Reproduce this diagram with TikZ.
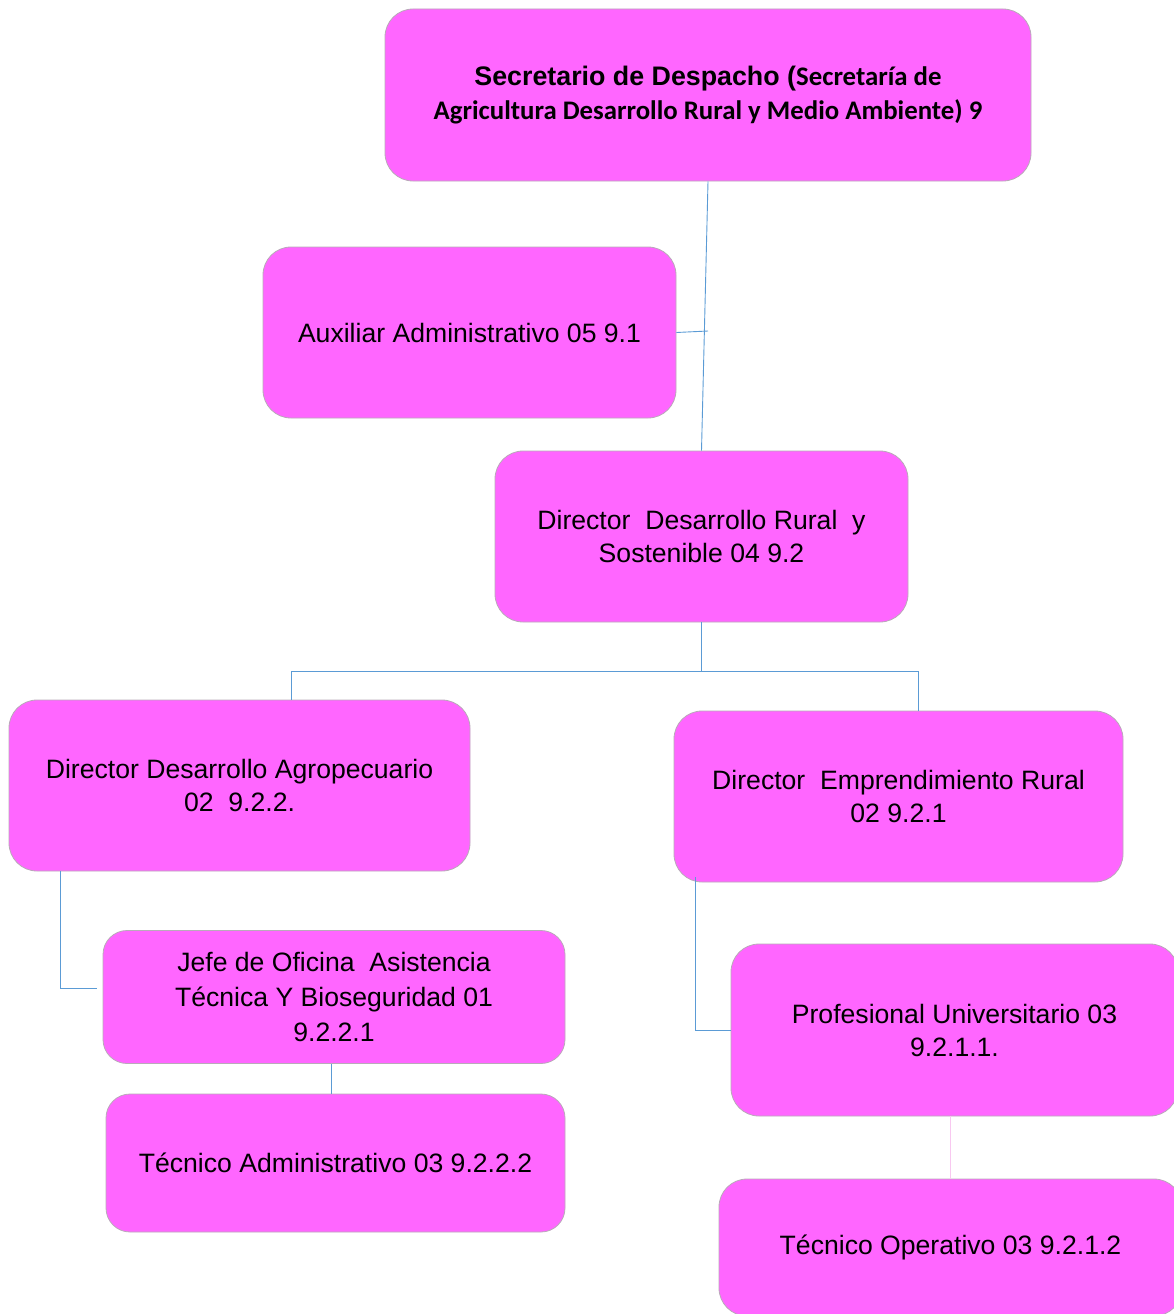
\documentclass[tikz,border=0pt]{standalone}
\usepackage{fontspec}
\setmainfont{Liberation Sans}
\newfontfamily\calibrifont{Carlito}
\usetikzlibrary{positioning}
\definecolor{boxpink}{RGB}{255,102,255}
\definecolor{boxedge}{RGB}{185,170,185}
\definecolor{linkblue}{RGB}{91,155,213}
\definecolor{linkpink}{RGB}{248,200,240}
\tikzset{
  cargo/.style={draw=boxedge, fill=boxpink, line width=0.8pt,
    rounded corners=28pt, inner sep=0pt, align=center,
    font=\fontsize{26.6}{33}\selectfont},
  link/.style={draw=linkblue, line width=0.9pt},
}

\begin{document}
\begin{tikzpicture}[x=1pt,y=-1pt]
    \useasboundingbox (0,0) rectangle (1174,1314);

    % cargos
    \node[cargo, minimum width=646pt, minimum height=172pt, font=\fontsize{26.8}{34}\selectfont] (secr) at (708,95)
      {{\bfseries Secretario de Despacho (}{\calibrifont\bfseries Secretaría de}\\
       {\calibrifont\bfseries Agricultura Desarrollo Rural y Medio Ambiente) 9}};
    \node[cargo, minimum width=413pt, minimum height=171pt] (aux) at (469.5,332.5)
      {Auxiliar Administrativo 05 9.1};
    \node[cargo, minimum width=413pt, minimum height=171pt] (drs) at (701.5,536.5)
      {Director~ Desarrollo Rural~ y\\ Sostenible 04 9.2};
    \node[cargo, minimum width=461pt, minimum height=171pt] (agro) at (239.5,785.5)
      {Director Desarrollo Agropecuario\\ 02~ 9.2.2.};
    \node[cargo, minimum width=449pt, minimum height=171pt] (empr) at (898.5,796.5)
      {Director~ Emprendimiento Rural\\ 02 9.2.1};
    \node[cargo, minimum width=462pt, minimum height=133pt, rounded corners=24pt,
      font=\fontsize{26.6}{35}\selectfont] (jefe) at (334,997)
      {Jefe de Oficina~ Asistencia\\ Técnica Y Bioseguridad 01\\ 9.2.2.1};
    \node[cargo, minimum width=459pt, minimum height=138pt, rounded corners=24pt] (tecadm) at (335.5,1163)
      {Técnico Administrativo 03 9.2.2.2};
    \node[cargo, minimum width=447pt, minimum height=172pt] (prof) at (954.5,1030)
      {Profesional Universitario 03\\ 9.2.1.1.};
    \node[cargo, minimum width=463pt, minimum height=137pt] (tecop) at (950.5,1247.5)
      {Técnico Operativo 03 9.2.1.2};

    % conectores
    \coordinate (auxjoin) at (708,331);
    \draw[link] (secr.south) -- (drs.north);
    \draw[link] (aux.east) -- (auxjoin);
    \draw[link] (drs.south) -- ++(0,49) -| ([xshift=51.5pt]agro.north);
    \draw[link] (drs.south) -- ++(0,49) -| ([xshift=19.5pt]empr.north);
    \draw[link] ([xshift=-179.5pt]agro.south) |- ([shift={(-6pt,9pt)}]jefe.west);
    \draw[link] ([xshift=-3pt]jefe.south) -- ([xshift=-3pt]jefe.south |- tecadm.north);
    \draw[link] ([shift={(-203.5pt,5pt)}]empr.south) |- (prof.west);
    \draw[draw=linkpink, line width=0.9pt] ([xshift=-4.5pt]prof.south) -- ([xshift=-4.5pt]prof.south |- tecop.north);
\end{tikzpicture}
\end{document}
